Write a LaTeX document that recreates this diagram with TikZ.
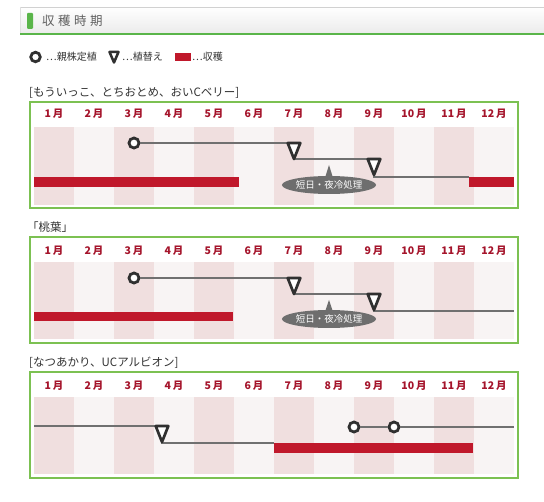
\documentclass[tikz,border=0pt]{standalone}
\usepackage{fontspec}
\setmainfont{Noto Sans CJK JP}
\newfontfamily\titlefont{Noto Sans CJK JP}[LetterSpace=28]
\usetikzlibrary{calc,shapes.geometric}
\definecolor{pinkcol}{HTML}{F0DFDF}
\definecolor{lightcol}{HTML}{F8F4F4}
\definecolor{harvest}{HTML}{C0182B}
\definecolor{monthred}{HTML}{A5142B}
\definecolor{boxgreen}{HTML}{7CC152}
\definecolor{headgreen}{HTML}{5AB54A}
\definecolor{linegray}{HTML}{707070}
\definecolor{markdark}{HTML}{303030}
\definecolor{callgray}{HTML}{6E6E6E}
\definecolor{textdark}{HTML}{333333}
\tikzset{
  panelframe/.style={draw=boxgreen,line width=1.3pt,fill=white},
  monthlbl/.style={text=monthred,font=\fontsize{10.5}{10.5}\selectfont\bfseries,inner sep=0pt},
  conn/.style={draw=linegray,line width=2.2pt},
  plantmark/.style={circle,draw=markdark,line width=2.8pt,fill=white,inner sep=0pt,minimum size=10pt},
  trimark/.style={draw=markdark,line width=2.7pt,fill=white,line join=round},
  callout/.style={ellipse,fill=callgray,text=white,inner sep=0pt,minimum width=72pt,minimum height=18pt,font=\fontsize{9.5}{9.5}\selectfont},
  panellbl/.style={anchor=west,inner sep=0pt,text=textdark,font=\fontsize{11.5}{11.5}\selectfont},
  legendtxt/.style={anchor=west,inner sep=0pt,text=textdark,font=\fontsize{10}{10}\selectfont},
}
\newcommand\chartpanel[6]{%
  \draw[panelframe] (30,#2) rectangle (518,#3);
  \foreach \m in {1,...,12}{%
    \pgfmathsetmacro\xl{34+40*(\m-1)}%
    \pgfmathsetmacro\xr{\xl+40}%
    \ifodd\m \def\cc{pinkcol}\else\def\cc{lightcol}\fi
    \fill[\cc] (\xl,#5) rectangle (\xr,#6);
    \node[monthlbl] (#1m\m) at ({\xl+20},#4) {\m\hspace{2pt}月};
  }}
\newcommand\trimk[1]{%
  \draw[trimark] ($(#1)+(-6.3,0)$) -- ($(#1)+(6.3,0)$) -- ($(#1)+(0,16)$) -- cycle;}
\begin{document}
\begin{tikzpicture}[x=1pt,y=-1pt]
\useasboundingbox (0,0) rectangle (544,502);
\fill[white] (0,0) rectangle (544,502);
% header
\shade[top color=white,bottom color=black!8] (20,7) rectangle (544,34);
\draw[black!18,line width=0.8pt] (20,7) -- (544,7);
\draw[black!12,line width=0.8pt] (20,7) -- (20,34);
\draw[headgreen,line width=2pt] (20,34.5) -- (544,34.5);
\fill[headgreen,rounded corners=1pt] (27,13) rectangle (33,29);
\node[anchor=west,inner sep=0pt,text=black!62] (title) at (42,21) {\titlefont\fontsize{12.5}{12.5}\selectfont 収穫時期};
% legend
\node[plantmark,minimum size=9.5pt] (lgc) at (35.5,57) {};
\node[legendtxt] (lgct) at (46,57) {…親株定植};
\coordinate (lgt) at (114,52);
\draw[trimark,line width=2.5pt] ($(lgt)+(-4.5,0)$) -- ($(lgt)+(4.5,0)$) -- ($(lgt)+(0,10.5)$) -- cycle;
\node[legendtxt] (lgtt) at (122,57) {…植替え};
\fill[harvest] (175,53.5) rectangle (191,61);
\node[legendtxt] (lgrt) at (192,57) {…収穫};
% ---------- panel 1
\node[panellbl] (lbl1) at (29,93) {[もういっこ、とちおとめ、おいCベリー]};
\chartpanel{a}{102}{208}{114}{127}{205}
\fill[harvest] (34,177) rectangle (239,187);
\fill[harvest] (469,177) rectangle (514,187);
\node[plantmark] (ac1) at (134,143) {};
\coordinate (at1) at (294,143);
\coordinate (at1b) at (294,159);
\coordinate (at2) at (374,159);
\coordinate (at2b) at (374,175);
\coordinate (ae) at (469,177);
\draw[conn] (ac1) -- (at1);
\draw[conn] (at1b) -- (at2);
\draw[conn] (at2b) -- (at2b|-ae) -- (ae);
\trimk{at1}
\trimk{at2}
\node[callout] (ak) at (329,185) {短日・夜冷処理};
\coordinate (aktip) at (329,165);
\fill[callgray] (aktip) -- ($(ak.north)+(4,2)$) -- ($(ak.north)+(-4,2)$) -- cycle;
% ---------- panel 2
\node[panellbl] (lbl2) at (27,227) {「桃葉」};
\chartpanel{b}{237}{343}{251}{262}{339}
\fill[harvest] (34,312) rectangle (233,321);
\node[plantmark] (bc1) at (134,278) {};
\coordinate (bt1) at (294,278);
\coordinate (bt1b) at (294,294);
\coordinate (bt2) at (374,294);
\coordinate (bt2b) at (374,310);
\coordinate (be) at (514,311);
\draw[conn] (bc1) -- (bt1);
\draw[conn] (bt1b) -- (bt2);
\draw[conn] (bt2b) -- (bt2b|-be) -- (be);
\trimk{bt1}
\trimk{bt2}
\node[callout] (bk) at (329,319) {短日・夜冷処理};
\coordinate (bktip) at (329,300);
\fill[callgray] (bktip) -- ($(bk.north)+(4,2)$) -- ($(bk.north)+(-4,2)$) -- cycle;
% ---------- panel 3
\node[panellbl] (lbl3) at (29,363) {[なつあかり、UCアルビオン]};
\chartpanel{c}{372}{478}{386}{397}{474}
\fill[harvest] (274,443) rectangle (473,453);
\coordinate (cs) at (34,426);
\coordinate (ct1) at (162,426);
\coordinate (ct1b) at (162,442);
\coordinate (ce1) at (274,443);
\node[plantmark] (cc1) at (354,427) {};
\node[plantmark] (cc2) at (394,427) {};
\coordinate (ce2) at (514,427);
\draw[conn] (cs) -- (ct1);
\draw[conn] (ct1b) -- (ct1b|-ce1) -- (ce1);
\draw[conn] (cc1) -- (cc2);
\draw[conn] (cc2) -- (ce2);
\trimk{ct1}
\end{tikzpicture}
\end{document}
